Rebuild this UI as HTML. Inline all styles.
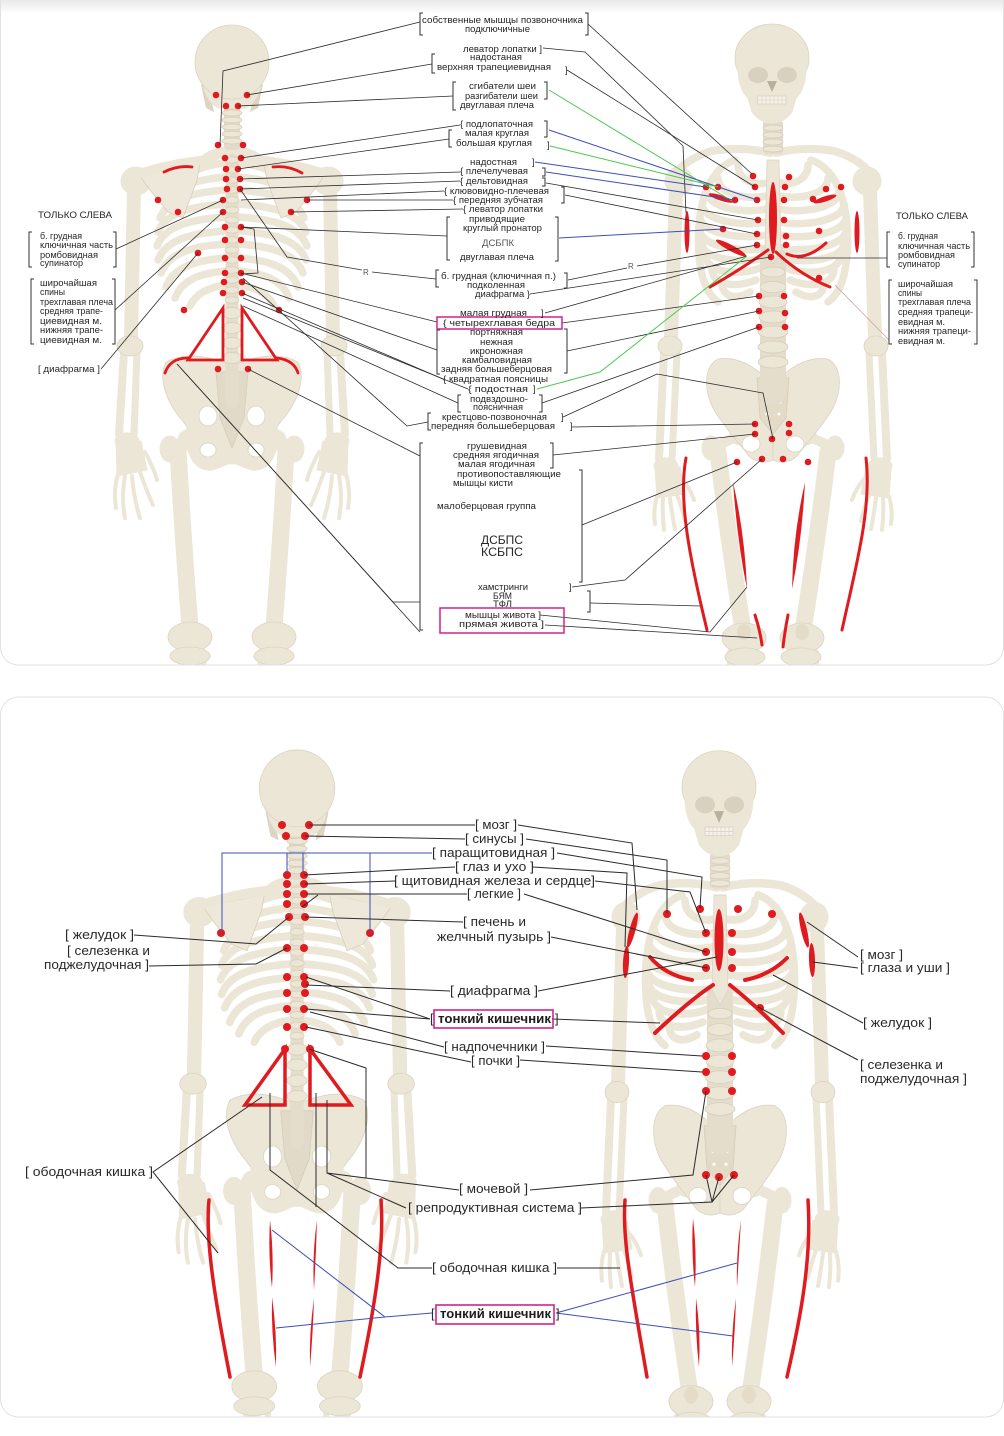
<!DOCTYPE html>
<html><head><meta charset="utf-8">
<style>
html,body{margin:0;padding:0;background:#fff;}
svg{display:block;}
.t{font-family:"Liberation Sans",Arial,sans-serif;font-size:9px;fill:#262626;}
.b{font-family:"Liberation Sans",Arial,sans-serif;font-size:13px;fill:#2a2a2a;}
.bb{font-family:"Liberation Sans",Arial,sans-serif;font-size:13px;fill:#1e1e1e;font-weight:bold;}
.ln{stroke:#2b2b2b;stroke-width:.8;fill:none;}
.ln2{stroke:#2b2b2b;stroke-width:1;fill:none;}
.br{stroke:#333;stroke-width:1;fill:none;}
.g{stroke:#4cc94c;stroke-width:1;fill:none;}
.bl{stroke:#3c4fb8;stroke-width:1;fill:none;}
.rd{fill:#e01b1f;}
.rs{stroke:#e01b1f;fill:none;stroke-linecap:round;}
</style></head><body>
<svg xmlns="http://www.w3.org/2000/svg" xmlns:xlink="http://www.w3.org/1999/xlink" width="1004" height="1436" viewBox="0 0 1004 1436">
<defs>
<clipPath id="c1"><rect x="0.5" y="-40" width="1003" height="705" rx="18"/></clipPath>
<clipPath id="c2"><rect x="0.5" y="697" width="1003" height="720" rx="18"/></clipPath>
<linearGradient id="tg" x1="0" y1="0" x2="0" y2="1"><stop offset="0" stop-color="#e9e9e9"/><stop offset="1" stop-color="#fff"/></linearGradient>

<!-- BACK SKELETON -->
<g id="back" fill="#ece6d7" stroke="#ece6d7" stroke-linecap="round" stroke-linejoin="round">
 <g id="bLegL">
  <path d="M178,450 C182,520 186,578 190,626" fill="none" stroke-width="17"/>
  <path d="M187,650 L188,705" fill="none" stroke-width="16"/>
  <path d="M203,652 L205,705" fill="none" stroke-width="6"/>
  <ellipse cx="170" cy="449" rx="10" ry="13"/>
  <ellipse cx="188" cy="440" rx="10" ry="10"/>
  <ellipse cx="190" cy="637" rx="22" ry="15" stroke="#ddd4c0" stroke-width=".8"/>
  <ellipse cx="190" cy="656" rx="20" ry="9" stroke="#ddd4c0" stroke-width=".8"/>
 </g>
 <use xlink:href="#bLegL" href="#bLegL" transform="translate(464,0) scale(-1,1)"/>
 <g id="bPelL">
  <path d="M232,366 C214,358 188,350 166,362 C158,378 166,402 182,420 C192,434 204,448 220,458 L232,455 Z" stroke="#ddd4c0" stroke-width=".8"/>
  <path d="M188,420 C182,448 192,472 212,470 C222,468 228,462 232,464 L232,440 Z"/>
  <ellipse cx="208" cy="416" rx="9" ry="10" fill="#fff" stroke="#ddd4c0" stroke-width=".8"/>
  <ellipse cx="208" cy="450" rx="8" ry="7" fill="#fff" stroke="#ddd4c0" stroke-width=".8"/>
 </g>
 <use xlink:href="#bPelL" href="#bPelL" transform="translate(464,0) scale(-1,1)"/>
 <path d="M216,372 L248,372 L244,418 L232,448 L220,418 Z" fill="#e2dac8" stroke="#d6cdb8" stroke-width=".8"/>
 <g id="bArmL">
  <path d="M134,188 L131,338" fill="none" stroke-width="14"/>
  <path d="M124,352 L119,434" fill="none" stroke-width="8"/>
  <path d="M137,352 L134,434" fill="none" stroke-width="7"/>
  <ellipse cx="136" cy="181" rx="15" ry="14"/>
  <ellipse cx="130" cy="346" rx="13" ry="10" stroke="#ddd4c0" stroke-width=".8"/>
  <ellipse cx="127" cy="441" rx="12" ry="8"/>
  <path d="M116,442 L141,441 L147,470 L117,476 Z"/>
  <g fill="none" stroke-width="4">
   <path d="M118,474 Q113,492 116,508"/>
   <path d="M125,476 Q121,498 125,518"/>
   <path d="M132,476 Q134,500 140,518"/>
   <path d="M140,472 Q147,492 153,505"/>
   <path d="M145,452 Q153,466 157,480"/>
  </g>
 </g>
 <use xlink:href="#bArmL" href="#bArmL" transform="translate(464,0) scale(-1,1)"/>
 <g id="bRibL" fill="none" stroke-width="7.5">
  <path d="M226,150 C212,152 200,157 192,176"/>
  <path d="M226,163 C205,165 184,171 176,190"/>
  <path d="M226,177 C200,179 174,185 166,204"/>
  <path d="M226,190 C196,192 168,198 160,218"/>
  <path d="M226,204 C194,206 166,212 158,232"/>
  <path d="M226,217 C193,219 165,225 157,246"/>
  <path d="M226,231 C193,233 166,239 158,260"/>
  <path d="M226,244 C195,246 169,252 161,273"/>
  <path d="M226,258 C198,260 174,266 166,287"/>
  <path d="M226,271 C202,273 182,279 175,298"/>
  <path d="M226,285 C210,287 196,293 190,306"/>
 </g>
 <use xlink:href="#bRibL" href="#bRibL" transform="translate(464,0) scale(-1,1)"/>
 <path d="M232,100 L232,402" fill="none" stroke="#e4ddcb" stroke-width="13"/>
 <g stroke="#d6cdb8" stroke-width=".7">
  <ellipse cx="232" cy="150" rx="7" ry="3.2"/><ellipse cx="232" cy="160" rx="7" ry="3.2"/><ellipse cx="232" cy="170" rx="7" ry="3.2"/><ellipse cx="232" cy="180" rx="7" ry="3.2"/><ellipse cx="232" cy="190" rx="7" ry="3.2"/><ellipse cx="232" cy="200" rx="7" ry="3.2"/><ellipse cx="232" cy="210" rx="7" ry="3.2"/><ellipse cx="232" cy="220" rx="7" ry="3.2"/><ellipse cx="232" cy="230" rx="7" ry="3.2"/><ellipse cx="232" cy="240" rx="7" ry="3.2"/><ellipse cx="232" cy="250" rx="7" ry="3.2"/><ellipse cx="232" cy="260" rx="7" ry="3.2"/><ellipse cx="232" cy="270" rx="7" ry="3.2"/><ellipse cx="232" cy="280" rx="7" ry="3.2"/><ellipse cx="232" cy="290" rx="7" ry="3.2"/><ellipse cx="232" cy="300" rx="7" ry="3.2"/>
  <ellipse cx="232" cy="313" rx="10" ry="5.5"/><ellipse cx="232" cy="328" rx="10" ry="5.5"/><ellipse cx="232" cy="343" rx="10" ry="5.5"/><ellipse cx="232" cy="358" rx="10" ry="5.5"/>
 </g>
 <path id="bScL" d="M140,176 L200,164 L197,180 L183,218 L168,212 L150,190 Z" fill="#eee8da" stroke="#d8cfbb" stroke-width=".8"/>
 <use xlink:href="#bScL" href="#bScL" transform="translate(464,0) scale(-1,1)"/>
 <path d="M132,176 Q170,163 205,160 Q222,154 232,148 Q242,154 259,160 Q294,163 332,176" fill="none" stroke-width="9"/>
 <rect x="224" y="98" width="16" height="52" rx="4" fill="#e2dbc9" stroke="none"/>
 <g stroke="#d6cdb8" stroke-width=".7">
  <ellipse cx="232" cy="106" rx="10" ry="3"/><ellipse cx="232" cy="113" rx="10" ry="3"/><ellipse cx="232" cy="120" rx="10" ry="3"/><ellipse cx="232" cy="127" rx="10" ry="3"/><ellipse cx="232" cy="134" rx="10" ry="3"/><ellipse cx="232" cy="141" rx="10" ry="3"/>
 </g>
 <path d="M201,84 L206,108 L214,112 L209,88 Z" fill="#ddd5c2" stroke="none"/>
 <path d="M263,84 L258,108 L250,112 L255,88 Z" fill="#ddd5c2" stroke="none"/>
 <path d="M202,76 Q204,100 218,108 L246,108 Q260,100 262,76 Z"/>
 <ellipse cx="232" cy="62" rx="37" ry="37" stroke="#ddd4c0" stroke-width=".8"/>
</g>

<!-- FRONT SKELETON -->
<g id="front" fill="#ece6d7" stroke="#ece6d7" stroke-linecap="round" stroke-linejoin="round">
 <g id="fLegL">
  <path d="M718,452 C726,520 735,580 742,624" fill="none" stroke-width="17"/>
  <path d="M746,650 L748,705" fill="none" stroke-width="16"/>
  <path d="M730,652 L729,705" fill="none" stroke-width="6"/>
  <path d="M712,448 L738,436" fill="none" stroke-width="10"/>
  <ellipse cx="711" cy="448" rx="9" ry="12"/>
  <ellipse cx="740" cy="435" rx="10" ry="10"/>
  <ellipse cx="744" cy="638" rx="22" ry="15" stroke="#ddd4c0" stroke-width=".8"/>
  <ellipse cx="745" cy="657" rx="20" ry="9" stroke="#ddd4c0" stroke-width=".8"/>
  <ellipse cx="744" cy="632" rx="7" ry="8" fill="#e4dcc9" stroke="none"/>
 </g>
 <use xlink:href="#fLegL" href="#fLegL" transform="translate(1546,0) scale(-1,1)"/>
 <g id="fPelL">
  <path d="M773,384 C760,372 742,355 718,359 C703,367 704,392 714,410 C724,426 736,440 746,452 C752,462 764,464 773,460 Z" stroke="#ddd4c0" stroke-width=".8"/>
  <ellipse cx="751" cy="444" rx="9" ry="8" fill="#fff" stroke="#ddd4c0" stroke-width=".8"/>
 </g>
 <use xlink:href="#fPelL" href="#fPelL" transform="translate(1546,0) scale(-1,1)"/>
 <path d="M757,378 L789,378 L786,418 L773,434 L760,418 Z" fill="#e3dbc8" stroke="#d6cdb8" stroke-width=".8"/>
 <g fill="#fff" stroke="none"><circle cx="765" cy="390" r="1.6"/><circle cx="781" cy="390" r="1.6"/><circle cx="766" cy="402" r="1.6"/><circle cx="780" cy="402" r="1.6"/><circle cx="767" cy="414" r="1.5"/><circle cx="779" cy="414" r="1.5"/></g>
 <g id="fArmL">
  <path d="M676,190 L671,338" fill="none" stroke-width="14"/>
  <path d="M664,352 L659,459" fill="none" stroke-width="8"/>
  <path d="M677,352 L672,459" fill="none" stroke-width="7"/>
  <ellipse cx="679" cy="181" rx="14" ry="14"/>
  <ellipse cx="670" cy="346" rx="12" ry="10" stroke="#ddd4c0" stroke-width=".8"/>
  <ellipse cx="666" cy="466" rx="12" ry="8"/>
  <path d="M655,467 L680,467 L685,494 L657,498 Z"/>
  <g fill="none" stroke-width="4">
   <path d="M657,496 Q653,510 655,524"/>
   <path d="M663,498 Q662,514 664,530"/>
   <path d="M670,498 Q672,514 675,529"/>
   <path d="M677,495 Q682,508 685,521"/>
   <path d="M681,478 Q690,488 694,500"/>
  </g>
 </g>
 <use xlink:href="#fArmL" href="#fArmL" transform="translate(1546,0) scale(-1,1)"/>
 <g id="fRibL" fill="none" stroke-width="7.5">
  <path d="M735,160 C706,170 696,210 699,255 C701,280 708,295 718,302"/>
  <path d="M766,183 C748,186 738,176 738,165"/>
  <path d="M766,196 C745,200 718,194 718,178"/>
  <path d="M766,209 C745,214 707,208 707,191"/>
  <path d="M766,222 C745,227 702,221 702,204"/>
  <path d="M766,235 C745,240 700,234 700,217"/>
  <path d="M766,248 C745,253 700,247 700,230"/>
  <path d="M764,258 C743,264 702,260 702,243"/>
  <path d="M760,268 C740,276 706,273 706,256"/>
  <path d="M756,280 C736,288 712,286 712,269"/>
  <path d="M750,292 C736,300 722,298 722,282"/>
 </g>
 <use xlink:href="#fRibL" href="#fRibL" transform="translate(1546,0) scale(-1,1)"/>
 <path d="M773,255 L773,392" fill="none" stroke="#e4ddcb" stroke-width="26"/>
 <g stroke="#d6cdb8" stroke-width=".7">
  <ellipse cx="773" cy="272" rx="12" ry="5"/><ellipse cx="773" cy="287" rx="13" ry="5.5"/><ellipse cx="773" cy="302" rx="14" ry="6"/><ellipse cx="773" cy="317" rx="14" ry="6"/><ellipse cx="773" cy="332" rx="15" ry="6"/><ellipse cx="773" cy="347" rx="15" ry="6"/><ellipse cx="773" cy="362" rx="15" ry="6"/>
 </g>
 <path d="M767,160 L779,160 L781,250 L773,264 L765,250 Z" stroke="#ddd4c0" stroke-width=".8"/>
 <path id="fClL" d="M770,153 Q742,146 712,151 Q694,156 680,168" fill="none" stroke-width="8"/>
 <use xlink:href="#fClL" href="#fClL" transform="translate(1546,0) scale(-1,1)"/>
 <rect x="763" y="120" width="20" height="34" rx="4" fill="#e2dbc9" stroke="none"/>
 <g stroke="#d6cdb8" stroke-width=".7">
  <ellipse cx="773" cy="128" rx="10" ry="3"/><ellipse cx="773" cy="135" rx="10" ry="3"/><ellipse cx="773" cy="142" rx="10" ry="3"/><ellipse cx="773" cy="149" rx="10" ry="3"/>
 </g>
 <ellipse cx="772" cy="58" rx="37" ry="34" stroke="#ddd4c0" stroke-width=".8"/>
 <path d="M738,62 Q737,88 748,98 L752,112 Q760,123 772,123 Q784,123 792,112 L796,98 Q807,88 806,62 Z"/>
 <ellipse cx="758" cy="75" rx="10" ry="8" fill="#d9d1c0" stroke="none"/>
 <ellipse cx="787" cy="75" rx="10" ry="8" fill="#d9d1c0" stroke="none"/>
 <path d="M767,81 L777,81 L772,92 Z" fill="#b8af9c" stroke="none"/>
 <rect x="758" y="96" width="28" height="8" fill="#f5f1e8" stroke="#cfc6b2" stroke-width=".5"/>
 <path d="M762,96 V104 M766,96 V104 M770,96 V104 M774,96 V104 M778,96 V104 M782,96 V104 M758,100 H786" stroke="#d3cab6" stroke-width=".5" fill="none"/>
</g>
</defs>

<!-- ================= TOP PANEL ================= -->
<g clip-path="url(#c1)">
<rect x="0" y="-40" width="1004" height="705" fill="#fff"/>
<rect x="0" y="0" width="1004" height="14" fill="url(#tg)"/>
<use xlink:href="#back" href="#back"/>
<use xlink:href="#front" href="#front"/>

<!-- top-left red -->
<g class="rd">
 <circle cx="216" cy="95" r="3.3"/><circle cx="247" cy="95" r="3.3"/><circle cx="226" cy="106" r="3.3"/><circle cx="238" cy="106" r="3.3"/><circle cx="218" cy="145" r="3.3"/><circle cx="243" cy="145" r="3.3"/>
 <circle cx="225" cy="158" r="3.3"/><circle cx="241" cy="158" r="3.3"/><circle cx="226" cy="169" r="3.3"/><circle cx="238" cy="169" r="3.3"/><circle cx="226" cy="179" r="3.3"/><circle cx="240" cy="179" r="3.3"/><circle cx="227" cy="189" r="3.3"/><circle cx="240" cy="189" r="3.3"/><circle cx="223" cy="200" r="3.3"/><circle cx="223" cy="212" r="3.3"/>
 <circle cx="158" cy="200" r="3.3"/><circle cx="178" cy="212" r="3.3"/><circle cx="307" cy="200" r="3.3"/><circle cx="291" cy="212" r="3.3"/>
 <circle cx="225" cy="227" r="3.3"/><circle cx="241" cy="227" r="3.3"/><circle cx="225" cy="240" r="3.3"/><circle cx="241" cy="240" r="3.3"/><circle cx="198" cy="253" r="3.3"/><circle cx="225" cy="258" r="3.3"/><circle cx="241" cy="258" r="3.3"/><circle cx="225" cy="273" r="3.3"/><circle cx="241" cy="273" r="3.3"/><circle cx="224" cy="282" r="3.3"/><circle cx="242" cy="282" r="3.3"/><circle cx="223" cy="293" r="3.3"/><circle cx="242" cy="293" r="3.3"/>
 <circle cx="184" cy="310" r="3.3"/><circle cx="279" cy="310" r="3.3"/><circle cx="218" cy="369" r="3.3"/><circle cx="248" cy="369" r="3.3"/>
</g>
<g class="rs" stroke-width="2.8">
 <path d="M164,172 Q178,165 192,167"/><path d="M273,167 Q288,165 302,173"/>
 <path d="M223,308 L188,360 L223,360 Z"/><path d="M242,308 L242,360 L277,360 Z"/>
 <path d="M165,373 Q170,358 188,358"/><path d="M277,358 Q294,360 298,373"/>
</g>

<!-- top-right red -->
<g class="rd">
 <circle cx="753" cy="176" r="3.3"/><circle cx="789" cy="177" r="3.3"/><circle cx="755" cy="187" r="3.3"/><circle cx="785" cy="187" r="3.3"/><circle cx="757" cy="200" r="3.3"/><circle cx="784" cy="200" r="3.3"/><circle cx="758" cy="220" r="3.3"/><circle cx="784" cy="220" r="3.3"/><circle cx="757" cy="234" r="3.3"/><circle cx="786" cy="236" r="3.3"/><circle cx="757" cy="245" r="3.3"/><circle cx="786" cy="245" r="3.3"/><circle cx="771" cy="257" r="3.3"/>
 <circle cx="706" cy="187" r="3.3"/><circle cx="718" cy="187" r="3.3"/><circle cx="735" cy="200" r="3.3"/><circle cx="826" cy="189" r="3.3"/><circle cx="841" cy="187" r="3.3"/><circle cx="813" cy="199" r="3.3"/><circle cx="723" cy="229" r="3.3"/><circle cx="819" cy="231" r="3.3"/><circle cx="819" cy="278" r="3.3"/>
 <circle cx="759" cy="296" r="3.3"/><circle cx="784" cy="296" r="3.3"/><circle cx="759" cy="311" r="3.3"/><circle cx="785" cy="313" r="3.3"/><circle cx="759" cy="327" r="3.3"/><circle cx="785" cy="327" r="3.3"/>
 <circle cx="755" cy="424" r="3.3"/><circle cx="789" cy="424" r="3.3"/><circle cx="755" cy="434" r="3.3"/><circle cx="789" cy="433" r="3.3"/><circle cx="772" cy="439" r="3.3"/><circle cx="737" cy="462" r="3.3"/><circle cx="762" cy="459" r="3.3"/><circle cx="783" cy="459" r="3.3"/><circle cx="808" cy="462" r="3.3"/>
 <ellipse cx="773" cy="218" rx="4" ry="36"/>
 <ellipse cx="721" cy="198" rx="13" ry="2.6" transform="rotate(18 721 198)"/>
 <ellipse cx="825" cy="199" rx="12" ry="2.6" transform="rotate(-18 825 199)"/>
 <ellipse cx="731" cy="248" rx="17" ry="3" transform="rotate(28 731 248)"/>
 <ellipse cx="687" cy="232" rx="2.5" ry="21"/>
 <ellipse cx="857" cy="232" rx="2.5" ry="21"/>
 <path d="M733,482 Q745,535 747,589 Q737,540 733,482 Z"/>
 <path d="M805,482 Q793,535 792,589 Q802,540 805,482 Z"/>
</g>
<g class="rs" stroke-width="3">
 <path d="M787,254 Q805,262 826,243"/>
 <path d="M710,287 Q740,270 768,250"/>
 <path d="M776,252 Q800,275 830,287"/>
 <path d="M686,458 C678,500 690,560 707,630"/>
 <path d="M866,458 C872,510 855,570 842,630"/>
 <path d="M755,615 Q760,630 762,645"/>
 <path d="M788,615 Q785,630 783,647"/>
</g>

<!-- top connectors left -->
<g class="ln">
 <path d="M420,22 L223,71 L220,145"/>
 <path d="M432,64 L247,95"/>
 <path d="M453,96 L238,106"/>
 <path d="M460,125 L241,158"/>
 <path d="M449,139 L238,169"/>
 <path d="M460,172 L240,179"/>
 <path d="M460,181 L240,189"/>
 <path d="M444,191 L241,200"/>
 <path d="M453,200 L307,200"/>
 <path d="M463,209 L291,212"/>
 <path d="M447,236 L241,227"/>
 <path d="M436,279 L372,272 M362,270 L287,257 L240,189"/>
 <path d="M437,322 L241,273"/>
 <path d="M437,350 L242,282"/>
 <path d="M443,379 L242,293"/>
 <path d="M468,389 L243,298"/>
 <path d="M458,403 L243,306"/>
 <path d="M428,422 L407,426 L243,278"/>
 <path d="M420,456 L248,369"/>
 <path d="M420,602 L393,602 L177,364"/>
 <path d="M420,632 L177,364"/>
 <path d="M116,249 L223,200"/>
 <path d="M115,310 L223,212"/>
 <path d="M101,369 L198,253"/>
 <path d="M241,227 L254,229 L258,273 L241,274"/>
</g>
<!-- top connectors right -->
<path class="ln" d="M588,24 L752,174"/>
<path class="ln" d="M543,48 L585,52 L683,146 L686,213"/>
<path class="ln" d="M567,70 L755,187"/>
<path class="g" d="M549,90 L732,201"/>
<path class="bl" d="M549,130 L757,200"/>
<path class="g" d="M550,146 L718,187"/>
<path class="bl" d="M535,162 L706,187"/>
<path class="bl" d="M546,172 L735,200"/>
<path class="ln" d="M546,183 L758,220"/>
<path class="ln" d="M565,195 L757,234"/>
<path class="bl" d="M559,238 L723,229"/>
<path class="ln" d="M568,280 L627,268 M637,266 L757,245"/>
<path class="ln" d="M530,294 L771,257"/>
<path class="ln" d="M545,313 L747,256"/>
<path class="ln" d="M562,323 L759,296"/>
<path class="ln" d="M567,351 L759,311"/>
<path class="g" d="M537,389 L600,372 L747,256"/>
<path class="ln" d="M542,403 L759,327"/>
<path class="ln" d="M563,417 L657,374 L763,393 L773,439"/>
<path class="ln" d="M572,427 L755,424"/>
<path class="ln" d="M553,455 L755,434"/>
<path class="ln" d="M582,525 L737,462"/>
<path class="ln" d="M572,587 L625,580 L762,459"/>
<path class="ln" d="M590,603 L700,606"/>
<path class="ln" d="M540,615 L710,632 L747,587"/>
<path class="ln" d="M545,625 L757,638"/>
<path class="ln" d="M887,258 L797,258"/>
<path d="M889,340 L835,285" stroke="#c9a5a5" stroke-width=".8" fill="none"/>

<!-- top brackets -->
<g class="br">
 <path d="M423,13 H420 V35 H423"/><path d="M585,13 H588 V35 H585"/>
 <path d="M435,54 H432 V73 H435"/>
 <path d="M456,82 H453 V110 H456"/><path d="M544,82 H547 V99 H544"/>
 <path d="M544,121 H547 V137 H544"/>
 <path d="M452,130 H449 V147 H452"/>
 <path d="M542,168 H545 V176 H542"/><path d="M542,178 H545 V186 H542"/>
 <path d="M561,187 H564 V203 H561"/>
 <path d="M450,217 H447 V260 H450"/><path d="M555,217 H558 V261 H555"/>
 <path d="M439,270 H436 V287 H439"/><path d="M564,273 H567 V288 H564"/>
 <path d="M440,330 H437 V374 H440"/><path d="M564,329 H567 V373 H564"/>
 <path d="M461,395 H458 V412 H461"/><path d="M539,395 H542 V412 H539"/>
 <path d="M431,413 H428 V430 H431"/>
 <path d="M423,443 H420 V630 H423"/>
 <path d="M550,443 H553 V468 H550"/>
 <path d="M579,470 H582 V582 H579"/>
 <path d="M587,591 H590 V612 H587"/>
</g>
<rect x="437" y="317" width="125" height="12" fill="none" stroke="#d4228c" stroke-width="1.5"/>
<rect x="440" y="608" width="124" height="25" fill="none" stroke="#d4228c" stroke-width="1.5"/>

<!-- top center text -->
<g class="t">
 <text x="422" y="23" textLength="161" lengthAdjust="spacingAndGlyphs">собственные мышцы позвоночника</text>
 <text x="465" y="32" textLength="65" lengthAdjust="spacingAndGlyphs">подключичные</text>
 <text x="463" y="52" textLength="79" lengthAdjust="spacingAndGlyphs">леватор лопатки ]</text>
 <text x="470" y="60" textLength="52" lengthAdjust="spacingAndGlyphs">надостаная</text>
 <text x="437" y="70" textLength="114" lengthAdjust="spacingAndGlyphs">верхняя трапециевидная</text>
 <text x="565" y="73">]</text>
 <text x="469" y="89" textLength="67" lengthAdjust="spacingAndGlyphs">сгибатели шеи</text>
 <text x="465" y="99" textLength="73" lengthAdjust="spacingAndGlyphs">разгибатели шеи</text>
 <text x="460" y="108" textLength="74" lengthAdjust="spacingAndGlyphs">двуглавая плеча</text>
 <text x="460" y="127" textLength="73" lengthAdjust="spacingAndGlyphs">{ подлопаточная</text>
 <text x="465" y="136" textLength="64" lengthAdjust="spacingAndGlyphs">малая круглая</text>
 <text x="456" y="146" textLength="76" lengthAdjust="spacingAndGlyphs">большая круглая</text>
 <text x="547" y="148">]</text>
 <text x="470" y="165" textLength="47" lengthAdjust="spacingAndGlyphs">надостная</text>
 <text x="532" y="165">]</text>
 <text x="460" y="174" textLength="68" lengthAdjust="spacingAndGlyphs">{ плечелучевая</text>
 <text x="460" y="184" textLength="68" lengthAdjust="spacingAndGlyphs">{ дельтовидная</text>
 <text x="444" y="194" textLength="105" lengthAdjust="spacingAndGlyphs">{ клювовидно-плечевая</text>
 <text x="453" y="203" textLength="90" lengthAdjust="spacingAndGlyphs">{ передняя зубчатая</text>
 <text x="463" y="212" textLength="80" lengthAdjust="spacingAndGlyphs">{ леватор лопатки</text>
 <text x="469" y="222" textLength="56" lengthAdjust="spacingAndGlyphs">приводящие</text>
 <text x="463" y="231" textLength="79" lengthAdjust="spacingAndGlyphs">круглый пронатор</text>
 <text x="482" y="246" textLength="32" lengthAdjust="spacingAndGlyphs" style="fill:#555">ДСБПК</text>
 <text x="460" y="260" textLength="74" lengthAdjust="spacingAndGlyphs">двуглавая плеча</text>
 <text x="441" y="279" textLength="115" lengthAdjust="spacingAndGlyphs">б. грудная (ключичная п.)</text>
 <text x="467" y="288" textLength="58" lengthAdjust="spacingAndGlyphs">подколенная</text>
 <text x="475" y="297" textLength="55" lengthAdjust="spacingAndGlyphs">диафрагма }</text>
 <text x="460" y="316" textLength="67" lengthAdjust="spacingAndGlyphs">малая грудная</text>
 <text x="541" y="316">]</text>
 <text x="443" y="326" textLength="112" lengthAdjust="spacingAndGlyphs">{ четырехглавая бедра</text>
 <text x="470" y="335" textLength="53" lengthAdjust="spacingAndGlyphs">портняжная</text>
 <text x="480" y="345" textLength="33" lengthAdjust="spacingAndGlyphs">нежная</text>
 <text x="470" y="354" textLength="53" lengthAdjust="spacingAndGlyphs">икроножная</text>
 <text x="462" y="363" textLength="70" lengthAdjust="spacingAndGlyphs">камбаловидная</text>
 <text x="441" y="372" textLength="111" lengthAdjust="spacingAndGlyphs">задняя большеберцовая</text>
 <text x="443" y="382" textLength="105" lengthAdjust="spacingAndGlyphs">{ квадратная поясницы</text>
 <text x="468" y="392" textLength="60" lengthAdjust="spacingAndGlyphs">{ подостная</text>
 <text x="533" y="392">]</text>
 <text x="470" y="402" textLength="58" lengthAdjust="spacingAndGlyphs">подвздошно-</text>
 <text x="473" y="410" textLength="50" lengthAdjust="spacingAndGlyphs">поясничная</text>
 <text x="442" y="420" textLength="105" lengthAdjust="spacingAndGlyphs">крестцово-позвоночная</text>
 <text x="561" y="420">]</text>
 <text x="431" y="429" textLength="124" lengthAdjust="spacingAndGlyphs">передняя большеберцовая</text>
 <text x="570" y="429">]</text>
 <text x="467" y="449" textLength="60" lengthAdjust="spacingAndGlyphs">грушевидная</text>
 <text x="453" y="458" textLength="86" lengthAdjust="spacingAndGlyphs">средняя ягодичная</text>
 <text x="458" y="467" textLength="77" lengthAdjust="spacingAndGlyphs">малая ягодичная</text>
 <text x="457" y="477" textLength="104" lengthAdjust="spacingAndGlyphs">противопоставляющие</text>
 <text x="453" y="486" textLength="60" lengthAdjust="spacingAndGlyphs">мышцы кисти</text>
 <text x="437" y="509" textLength="99" lengthAdjust="spacingAndGlyphs">малоберцовая группа</text>
 <text x="481" y="544" textLength="42" lengthAdjust="spacingAndGlyphs" style="font-size:12px">ДСБПС</text>
 <text x="481" y="556" textLength="42" lengthAdjust="spacingAndGlyphs" style="font-size:12px">КСБПС</text>
 <text x="478" y="590" textLength="50" lengthAdjust="spacingAndGlyphs">хамстринги</text>
 <text x="569" y="590">]</text>
 <text x="493" y="599" textLength="19" lengthAdjust="spacingAndGlyphs">БЯМ</text>
 <text x="493" y="607" textLength="19" lengthAdjust="spacingAndGlyphs">ТФЛ</text>
 <text x="465" y="618" textLength="76" lengthAdjust="spacingAndGlyphs">мышцы живота ]</text>
 <text x="459" y="627" textLength="85" lengthAdjust="spacingAndGlyphs">прямая живота ]</text>
 <text x="363" y="275" style="font-size:8px;fill:#555">R</text>
 <text x="628" y="269" style="font-size:8px;fill:#555">R</text>
</g>
<!-- top side labels -->
<g class="t">
 <text x="38" y="218" textLength="74" lengthAdjust="spacingAndGlyphs">ТОЛЬКО СЛЕВА</text>
 <text x="40" y="239" textLength="42" lengthAdjust="spacingAndGlyphs">б. грудная</text>
 <text x="40" y="248" textLength="73" lengthAdjust="spacingAndGlyphs">ключичная часть</text>
 <text x="40" y="258" textLength="58" lengthAdjust="spacingAndGlyphs">ромбовидная</text>
 <text x="40" y="266" textLength="43" lengthAdjust="spacingAndGlyphs">супинатор</text>
 <text x="40" y="286" textLength="57" lengthAdjust="spacingAndGlyphs">широчайшая</text>
 <text x="40" y="295" textLength="25" lengthAdjust="spacingAndGlyphs">спины</text>
 <text x="40" y="305" textLength="73" lengthAdjust="spacingAndGlyphs">трехглавая плеча</text>
 <text x="40" y="314" textLength="63" lengthAdjust="spacingAndGlyphs">средняя трапе-</text>
 <text x="40" y="324" textLength="62" lengthAdjust="spacingAndGlyphs">циевидная м.</text>
 <text x="40" y="333" textLength="63" lengthAdjust="spacingAndGlyphs">нижняя трапе-</text>
 <text x="40" y="343" textLength="62" lengthAdjust="spacingAndGlyphs">циевидная м.</text>
 <text x="38" y="372" textLength="62" lengthAdjust="spacingAndGlyphs">[ диафрагма ]</text>

 <text x="896" y="219" textLength="72" lengthAdjust="spacingAndGlyphs">ТОЛЬКО СЛЕВА</text>
 <text x="898" y="239" textLength="40" lengthAdjust="spacingAndGlyphs">б. грудная</text>
 <text x="898" y="249" textLength="72" lengthAdjust="spacingAndGlyphs">ключичная часть</text>
 <text x="898" y="258" textLength="57" lengthAdjust="spacingAndGlyphs">ромбовидная</text>
 <text x="898" y="267" textLength="42" lengthAdjust="spacingAndGlyphs">супинатор</text>
 <text x="898" y="287" textLength="55" lengthAdjust="spacingAndGlyphs">широчайшая</text>
 <text x="898" y="296" textLength="24" lengthAdjust="spacingAndGlyphs">спины</text>
 <text x="898" y="305" textLength="73" lengthAdjust="spacingAndGlyphs">трехглавая плеча</text>
 <text x="898" y="315" textLength="75" lengthAdjust="spacingAndGlyphs">средняя трапеци-</text>
 <text x="898" y="325" textLength="47" lengthAdjust="spacingAndGlyphs">евидная м.</text>
 <text x="898" y="334" textLength="73" lengthAdjust="spacingAndGlyphs">нижняя трапеци-</text>
 <text x="898" y="344" textLength="47" lengthAdjust="spacingAndGlyphs">евидная м.</text>
</g>
<g class="br">
 <path d="M32,232 H29 V267 H32"/><path d="M113,232 H116 V267 H113"/>
 <path d="M34,279 H31 V344 H34"/><path d="M112,279 H115 V344 H112"/>
 <path d="M890,232 H887 V267 H890"/><path d="M971,232 H974 V267 H971"/>
 <path d="M892,280 H889 V344 H892"/><path d="M974,280 H977 V344 H974"/>
</g>
</g>
<rect x="0.5" y="-40" width="1003" height="705" rx="18" fill="none" stroke="#e2e2e2" stroke-width="1"/>

<!-- ================= BOTTOM PANEL ================= -->
<g clip-path="url(#c2)">
<rect x="0" y="697" width="1004" height="720" fill="#fff"/>
<use xlink:href="#back" href="#back" transform="translate(60.4,723.9) scale(1.02,1.04)"/>
<use xlink:href="#front" href="#front" transform="translate(-53,725.3) scale(1,1.06)"/>

<!-- bottom-left red -->
<g class="rd">
 <circle cx="282" cy="825" r="4"/><circle cx="309" cy="825" r="4"/><circle cx="286" cy="836" r="4"/><circle cx="305" cy="836" r="4"/>
 <circle cx="287" cy="875" r="4"/><circle cx="304" cy="875" r="4"/><circle cx="287" cy="884" r="4"/><circle cx="304" cy="884" r="4"/><circle cx="287" cy="894" r="4"/><circle cx="304" cy="894" r="4"/><circle cx="287" cy="904" r="4"/><circle cx="304" cy="904" r="4"/><circle cx="289" cy="917" r="4"/><circle cx="305" cy="917" r="4"/>
 <circle cx="287" cy="948" r="4"/><circle cx="304" cy="948" r="4"/><circle cx="287" cy="977" r="4"/><circle cx="304" cy="977" r="4"/><circle cx="305" cy="984" r="4"/><circle cx="287" cy="993" r="4"/><circle cx="305" cy="993" r="4"/><circle cx="287" cy="1009" r="4"/><circle cx="304" cy="1009" r="4"/><circle cx="287" cy="1027" r="4"/><circle cx="304" cy="1027" r="4"/><circle cx="285" cy="1049" r="4"/><circle cx="310" cy="1049" r="4"/>
 <circle cx="221" cy="933" r="4"/><circle cx="370" cy="933" r="4"/>
 <path d="M270,1220 Q274,1254 272,1288 Q268,1254 270,1220 Z"/>
 <path d="M272,1297 Q277,1332 276,1367 Q271,1332 272,1297 Z"/>
 <path d="M317,1220 Q316,1255 314,1290 Q312,1255 317,1220 Z"/>
 <path d="M314,1298 Q313,1333 310,1367 Q309,1333 314,1298 Z"/>
</g>
<g class="rs" stroke-width="3.5">
 <path d="M285,1049 L245,1105 L285,1105 Z"/><path d="M310,1049 L310,1105 L351,1105 Z"/>
 <path d="M209,1200 C205,1240 215,1300 230,1377"/>
 <path d="M381,1200 C385,1250 372,1320 360,1377"/>
</g>

<!-- bottom-right red -->
<g class="rd">
 <circle cx="667" cy="914" r="4"/><circle cx="700" cy="909" r="4"/><circle cx="738" cy="909" r="4"/><circle cx="772" cy="914" r="4"/><circle cx="706" cy="933" r="4"/><circle cx="732" cy="933" r="4"/><circle cx="706" cy="952" r="4"/><circle cx="732" cy="952" r="4"/><circle cx="706" cy="968" r="4"/><circle cx="732" cy="968" r="4"/><circle cx="760" cy="1008" r="4"/>
 <circle cx="706" cy="1056" r="4"/><circle cx="732" cy="1056" r="4"/><circle cx="706" cy="1072" r="4"/><circle cx="732" cy="1072" r="4"/><circle cx="706" cy="1091" r="4"/><circle cx="732" cy="1091" r="4"/>
 <circle cx="706" cy="1175" r="4"/><circle cx="719" cy="1177" r="4"/><circle cx="734" cy="1175" r="4"/>
 <ellipse cx="719" cy="940" rx="4.5" ry="31"/>
 <ellipse cx="632.5" cy="930" rx="3" ry="18" transform="rotate(15 632.5 930)"/>
 <ellipse cx="626" cy="962" rx="3" ry="16" transform="rotate(3 626 962)"/>
 <ellipse cx="804" cy="930" rx="3" ry="18" transform="rotate(-13 804 930)"/>
 <ellipse cx="812" cy="960" rx="3" ry="17" transform="rotate(-2 812 960)"/>
 <path d="M693,1218 Q697,1252 695,1287 Q691,1252 693,1218 Z"/>
 <path d="M696,1298 Q701,1332 699,1367 Q695,1332 696,1298 Z"/>
 <path d="M741,1220 Q739,1254 737,1287 Q736,1254 741,1220 Z"/>
 <path d="M736,1298 Q735,1333 732,1367 Q731,1333 736,1298 Z"/>
</g>
<g class="rs" stroke-width="4">
 <path d="M650,957 Q665,975 692,980"/>
 <path d="M745,980 Q770,975 787,958"/>
 <path d="M655,1033 Q690,1000 713,985"/>
 <path d="M730,985 Q755,1005 783,1033"/>
</g>
<g class="rs" stroke-width="3.5">
 <path d="M625,1200 C622,1240 632,1290 647,1377"/>
 <path d="M808,1200 C812,1260 800,1320 787,1377"/>
</g>

<!-- bottom connectors -->
<path class="bl" d="M432,853 L222,853 L222,933 M370,853 L370,933 M287,853 L287,873 M303,853 L303,873"/>
<path class="bl" d="M432,1313 L385,1317 L272,1230 M385,1317 L276,1328"/>
<path class="bl" d="M556,1313 L737,1263 M556,1313 L733,1336"/>
<g class="ln2">
 <path d="M475,825 L309,825"/>
 <path d="M465,839 L305,836"/>
 <path d="M455,867 L304,875"/>
 <path d="M395,881 L305,884"/>
 <path d="M467,894 L306,894 M318,895 L302,907"/>
 <path d="M463,922 L305,917"/>
 <path d="M134,935 L256,944 L289,917"/>
 <path d="M149,966 L256,964 L287,948"/>
 <path d="M450,991 L306,985"/>
 <path d="M430,1019 L306,977 M430,1019 L306,1009"/>
 <path d="M444,1047 L310,1012"/>
 <path d="M471,1062 L306,1027"/>
 <path d="M309,1049 L366,1068 L366,1178"/>
 <path d="M327,1100 L327,1173 L459,1190 M327,1173 L406,1208"/>
 <path d="M270,1093 L270,1170 L398,1268 L432,1268"/>
 <path d="M316,1093 L316,1207"/>
 <path d="M262,1097 L153,1172 L218,1253"/>
 <path d="M518,825 L632,843 L637,910"/>
 <path d="M526,839 L667,860 L667,913"/>
 <path d="M557,853 L702,877 L700,908"/>
 <path d="M533,867 L627,873 L625,947"/>
 <path d="M595,881 L690,892 L706,933"/>
 <path d="M524,894 L706,952"/>
 <path d="M551,937 L707,968"/>
 <path d="M538,991 L717,957"/>
 <path d="M552,1019 L660,1023"/>
 <path d="M546,1046 L702,1056"/>
 <path d="M520,1060 L702,1072"/>
 <path d="M530,1190 L693,1175 L706,1091"/>
 <path d="M581,1208 L712,1202 L706,1175 M712,1202 L719,1177 M712,1202 L734,1175"/>
 <path d="M557,1268 L620,1268"/>
 <path d="M858,957 L807,922"/>
 <path d="M858,968 L813,962"/>
 <path d="M863,1023 L773,975"/>
 <path d="M858,1060 L758,1007"/>
</g>

<rect x="434" y="1010" width="119" height="18" fill="none" stroke="#d4228c" stroke-width="1.6"/>
<rect x="436" y="1305" width="118" height="19" fill="none" stroke="#d4228c" stroke-width="1.6"/>

<!-- bottom text -->
<g class="b">
 <text x="475" y="829" textLength="42" lengthAdjust="spacingAndGlyphs">[ мозг ]</text>
 <text x="465" y="843" textLength="59" lengthAdjust="spacingAndGlyphs">[ синусы ]</text>
 <text x="432" y="857" textLength="123" lengthAdjust="spacingAndGlyphs">[ паращитовидная ]</text>
 <text x="455" y="871" textLength="79" lengthAdjust="spacingAndGlyphs">[ глаз и ухо ]</text>
 <text x="394" y="885" textLength="201" lengthAdjust="spacingAndGlyphs">[ щитовидная железа и сердце]</text>
 <text x="467" y="898" textLength="54" lengthAdjust="spacingAndGlyphs">[ легкие ]</text>
 <text x="463" y="926" textLength="63" lengthAdjust="spacingAndGlyphs">[ печень и</text>
 <text x="437" y="941" textLength="114" lengthAdjust="spacingAndGlyphs">желчный пузырь ]</text>
 <text x="450" y="995" textLength="88" lengthAdjust="spacingAndGlyphs">[ диафрагма ]</text>
 <text x="430" y="1023">[</text>
 <text x="555" y="1023">]</text>
 <text x="444" y="1051" textLength="101" lengthAdjust="spacingAndGlyphs">[ надпочечники ]</text>
 <text x="471" y="1065" textLength="49" lengthAdjust="spacingAndGlyphs">[ почки ]</text>
 <text x="459" y="1193" textLength="69" lengthAdjust="spacingAndGlyphs">[ мочевой ]</text>
 <text x="408" y="1212" textLength="174" lengthAdjust="spacingAndGlyphs">[ репродуктивная система ]</text>
 <text x="432" y="1272" textLength="125" lengthAdjust="spacingAndGlyphs">[ ободочная кишка ]</text>
 <text x="431" y="1318">[</text>
 <text x="556" y="1318">]</text>
 <text x="65" y="939" textLength="69" lengthAdjust="spacingAndGlyphs">[ желудок ]</text>
 <text x="67" y="955" textLength="83" lengthAdjust="spacingAndGlyphs">[ селезенка и</text>
 <text x="44" y="969" textLength="105" lengthAdjust="spacingAndGlyphs">поджелудочная ]</text>
 <text x="25" y="1176" textLength="128" lengthAdjust="spacingAndGlyphs">[ ободочная кишка ]</text>
 <text x="860" y="959" textLength="43" lengthAdjust="spacingAndGlyphs">[ мозг ]</text>
 <text x="860" y="972" textLength="90" lengthAdjust="spacingAndGlyphs">[ глаза и уши ]</text>
 <text x="863" y="1027" textLength="69" lengthAdjust="spacingAndGlyphs">[ желудок ]</text>
 <text x="860" y="1069" textLength="83" lengthAdjust="spacingAndGlyphs">[ селезенка и</text>
 <text x="860" y="1083" textLength="107" lengthAdjust="spacingAndGlyphs">поджелудочная ]</text>
</g>
<text class="bb" x="438" y="1023" textLength="113" lengthAdjust="spacingAndGlyphs">тонкий кишечник</text>
<text class="bb" x="440" y="1318" textLength="111" lengthAdjust="spacingAndGlyphs">тонкий кишечник</text>
</g>
<rect x="0.5" y="697" width="1003" height="720" rx="18" fill="none" stroke="#e2e2e2" stroke-width="1"/>
</svg>
</body></html>
